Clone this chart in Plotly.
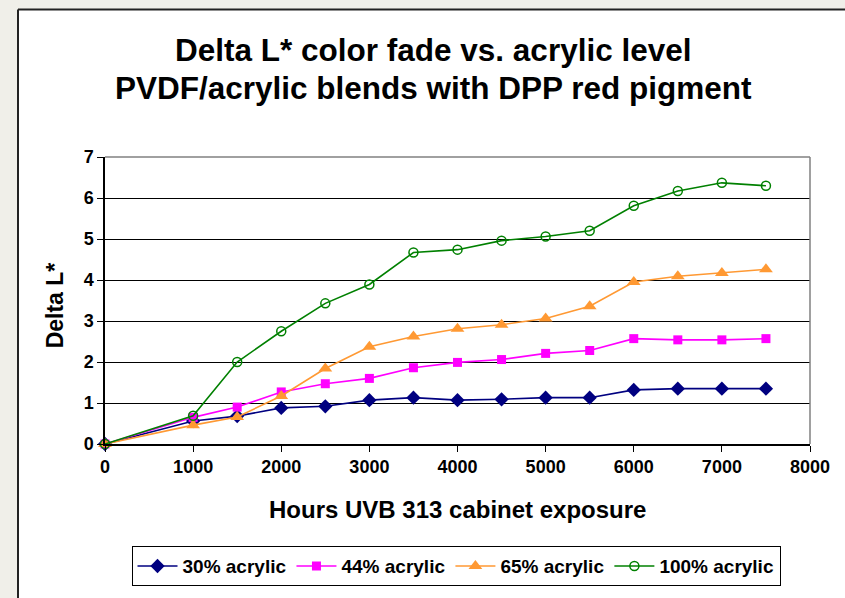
import plotly.graph_objects as go

hours = [0, 1000, 1500, 2000, 2500, 3000, 3500, 4000, 4500, 5000, 5500, 6000, 6500, 7000, 7500]
acr30 = [0, 0.56, 0.68, 0.88, 0.92, 1.07, 1.13, 1.07, 1.09, 1.13, 1.13, 1.32, 1.35, 1.35, 1.35]
acr44 = [0, 0.65, 0.90, 1.27, 1.47, 1.60, 1.86, 1.99, 2.06, 2.21, 2.28, 2.57, 2.54, 2.54, 2.57]
acr65 = [0, 0.46, 0.66, 1.17, 1.84, 2.37, 2.62, 2.81, 2.91, 3.06, 3.36, 3.95, 4.09, 4.17, 4.26]
acr100 = [0, 0.69, 2.00, 2.75, 3.43, 3.89, 4.67, 4.74, 4.96, 5.06, 5.20, 5.81, 6.17, 6.37, 6.30]
names = ["30% acrylic", "44% acrylic", "65% acrylic", "100% acrylic"]
x_ticks = [0, 1000, 2000, 3000, 4000, 5000, 6000, 7000, 8000]
y_ticks = [0, 1, 2, 3, 4, 5, 6, 7]

FONT = "Liberation Sans, Arial, sans-serif"

fig = go.Figure()
styles = [
    (acr30, "#000080", dict(symbol="diamond", size=11, color="#000080")),
    (acr44, "#ff00ff", dict(symbol="square", size=9, color="#ff00ff")),
    (acr65, "#ff9933", dict(symbol="triangle-up", size=12, color="#ff9933")),
    (acr100, "#008000", dict(symbol="circle-open", size=9, color="#008000", line=dict(width=1.5))),
]
for (vals, col, mk), nm in zip(styles, names):
    fig.add_trace(go.Scatter(x=hours, y=vals, name=f"<b>{nm}</b>", mode="lines+markers",
                             line=dict(color=col, width=1.6), marker=mk, cliponaxis=False))

W, H = 845, 598
L, R, T, B = 105, 35, 157, H - 453
pw, ph = W - L - R, H - T - B
def px(x): return (x - L) / pw
def py(y): return (H - B - y) / ph

shapes = [
    dict(type="rect", xref="paper", yref="paper", x0=px(18), x1=px(850), y0=py(5), y1=py(620),
         fillcolor="white", line=dict(width=0), layer="below"),
    dict(type="line", xref="paper", yref="paper", x0=px(18), x1=px(850), y0=py(5), y1=py(5),
         line=dict(color="#222222", width=2)),
    dict(type="line", xref="paper", yref="paper", x0=px(18), x1=px(18), y0=py(5), y1=py(620),
         line=dict(color="#222222", width=2)),
    dict(type="line", xref="paper", yref="paper", x0=0, x1=1, y0=1, y1=1,
         line=dict(color="#808080", width=1.5)),
    dict(type="line", xref="paper", yref="paper", x0=1, x1=1, y0=0, y1=1,
         line=dict(color="#808080", width=1.5)),
]

annotations = [
    dict(text="<b>Delta L* color fade vs. acrylic level</b>", x=px(433), y=py(47), xref="paper", yref="paper",
         showarrow=False, font=dict(family=FONT, size=31.5, color="black"), xanchor="center", yanchor="middle"),
    dict(text="<b>PVDF/acrylic blends with DPP red pigment</b>", x=px(433), y=py(86), xref="paper", yref="paper",
         showarrow=False, font=dict(family=FONT, size=31.5, color="black"), xanchor="center", yanchor="middle"),
    dict(text="<b>Hours UVB 313 cabinet exposure</b>", x=px(457), y=py(521), xref="paper", yref="paper",
         showarrow=False, font=dict(family=FONT, size=24, color="black"), xanchor="center", yanchor="middle"),
    dict(text="<b>Delta L*</b>", x=px(55), y=py(310), xref="paper", yref="paper", textangle=-90,
         showarrow=False, font=dict(family=FONT, size=23, color="black"), xanchor="center", yanchor="middle"),
]

fig.update_layout(
    width=W, height=H, autosize=False,
    margin=dict(l=L, r=R, t=T, b=B),
    paper_bgcolor="#f0efe9",
    plot_bgcolor="white",
    showlegend=True,
    legend=dict(orientation="h", x=px(456), y=py(579), xanchor="center", yanchor="middle",
                bordercolor="black", borderwidth=1, bgcolor="white",
                font=dict(family=FONT, size=19, color="black"), itemwidth=40, tracegroupgap=0),
    shapes=shapes,
    annotations=annotations,
    xaxis=dict(range=[0, 8000], tickvals=x_ticks, ticktext=[f"<b>{v}</b>" for v in x_ticks],
               showgrid=False, zeroline=False, showline=True, linecolor="black", linewidth=1.5,
               ticks="outside", ticklen=6, tickcolor="black",
               tickfont=dict(family=FONT, size=18, color="black")),
    yaxis=dict(range=[0, 7], tickvals=y_ticks, ticktext=[f"<b>{v}</b>" for v in y_ticks],
               showgrid=True, gridcolor="black", gridwidth=1, zeroline=False,
               showline=True, linecolor="black", linewidth=1.5,
               ticks="outside", ticklen=6, tickcolor="black",
               tickfont=dict(family=FONT, size=18, color="black")),
)

fig.write_html("out.html",
               config={"displayModeBar": False, "responsive": False},
               post_script="document.body.style.margin='0';document.body.style.overflow='hidden';document.documentElement.style.overflow='hidden';")
